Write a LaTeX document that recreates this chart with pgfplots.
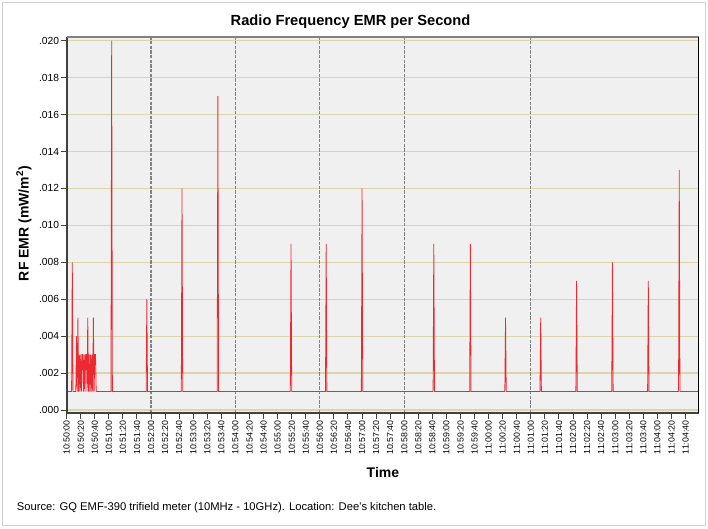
\documentclass[border=0pt]{standalone}
\usepackage{pgfplots}
\pgfplotsset{compat=1.18}
\usepackage{fontspec}
\setmainfont{Liberation Sans}
\definecolor{plotbg}{RGB}{240,240,240}
\definecolor{gridtan}{RGB}{220,213,172}
\definecolor{emrred}{RGB}{236,40,48}
\definecolor{sepgray}{RGB}{130,130,130}
\definecolor{framegray}{RGB}{64,64,64}
\definecolor{outergray}{RGB}{210,210,210}
\begin{document}
\begin{tikzpicture}
\useasboundingbox (0,0) rectangle (531pt,396.75pt);
\draw[outergray, line width=0.75pt] (2pt,2.8pt) rectangle (529pt,394.7pt);
\begin{axis}[
    at={(50pt,87pt)}, anchor=south west,
    scale only axis, width=474.2pt, height=282pt,
    xmin=0, xmax=899, ymin=-0.00016, ymax=0.0202,
    axis background/.style={fill=plotbg},
    axis line style={draw=none},
    tick pos=left, tick align=outside,
    major tick length=4.5pt,
    tick style={framegray, line width=0.75pt},
    xtick={0,20,...,880},
    xticklabels={10:50:00,10:50:20,10:50:40,10:51:00,10:51:20,10:51:40,10:52:00,10:52:20,10:52:40,10:53:00,10:53:20,10:53:40,10:54:00,10:54:20,10:54:40,10:55:00,10:55:20,10:55:40,10:56:00,10:56:20,10:56:40,10:57:00,10:57:20,10:57:40,10:58:00,10:58:20,10:58:40,10:59:00,10:59:20,10:59:40,11:00:00,11:00:20,11:00:40,11:01:00,11:01:20,11:01:40,11:02:00,11:02:20,11:02:40,11:03:00,11:03:20,11:03:40,11:04:00,11:04:20,11:04:40},
    xticklabel style={rotate=90, anchor=east, font=\fontsize{6.6}{7}\selectfont, inner sep=1pt},
    ytick={0,0.002,0.004,0.006,0.008,0.010,0.012,0.014,0.016,0.018,0.020},
    yticklabels={.000,.002,.004,.006,.008,.010,.012,.014,.016,.018,.020},
    yticklabel style={font=\fontsize{7.7}{8}\selectfont, inner sep=1pt},
    scaled y ticks=false,
    ymajorgrids,
    major grid style={gridtan, line width=1pt},
    clip=false,
]
% separators
\addplot[sepgray, line width=0.9pt, dash pattern=on 2.5pt off 1pt] coordinates {(120,-0.00016)(120,0.0202)};
\addplot[sepgray, line width=0.9pt, dash pattern=on 2.5pt off 1pt] coordinates {(240,-0.00016)(240,0.0202)};
\addplot[sepgray, line width=0.9pt, dash pattern=on 2.5pt off 1pt] coordinates {(360,-0.00016)(360,0.0202)};
\addplot[sepgray, line width=0.9pt, dash pattern=on 2.5pt off 1pt] coordinates {(480,-0.00016)(480,0.0202)};
\addplot[sepgray, line width=0.9pt, dash pattern=on 2.5pt off 1pt] coordinates {(660,-0.00016)(660,0.0202)};
% readings, one per second
\addplot[emrred, line width=0.6pt, sharp plot, line join=miter] coordinates {
(0,0.001)(7,0.001)(8,0.008)(9,0.001)(13,0.001)(14,0.004)(15,0.001)(16,0.005)(17,0.001)
(18,0.003)(19,0.001)(20,0.003)(21,0.001)(22,0.003)(23,0.003)(24,0.001)(25,0.003)(26,0.001)
(27,0.003)(28,0.003)(29,0.001)(30,0.005)(31,0.001)(32,0.003)(33,0.001)(34,0.003)(35,0.001)
(36,0.003)(37,0.001)(38,0.005)(39,0.001)(40,0.003)(41,0.003)(42,0.001)
(63,0.001)(64,0.020)(65,0.001)
(113,0.001)(114,0.006)(115,0.001)
(163,0.001)(164,0.012)(165,0.001)
(214,0.001)(215,0.017)(216,0.001)
(318,0.001)(319,0.009)(320,0.001)
(368,0.001)(369,0.009)(370,0.001)
(419,0.001)(420,0.012)(421,0.001)
(521,0.001)(522,0.009)(523,0.001)
(573,0.001)(574,0.009)(575,0.001)
(623,0.001)(624,0.005)(625,0.001)
(673,0.001)(674,0.005)(675,0.001)
(724,0.001)(725,0.007)(726,0.001)
(775,0.001)(776,0.008)(777,0.001)
(826,0.001)(827,0.007)(828,0.001)
(870,0.001)(871,0.013)(872,0.001)
(899,0.001)};
% frame
\draw[framegray, line width=1.5pt] (rel axis cs:0,1) -- (rel axis cs:0,0) -- (rel axis cs:1,0);
\draw[sepgray, line width=1.1pt] (rel axis cs:0,1) -- (rel axis cs:1,1);
\draw[black, line width=0.75pt] (rel axis cs:1,1) -- (rel axis cs:1,0);
\end{axis}
\node[anchor=base, font=\bfseries\fontsize{11}{13}\selectfont] at (262.9pt,377.6pt) {Radio Frequency EMR per Second};
\node[anchor=base, font=\bfseries\fontsize{10.5}{12}\selectfont] at (287.2pt,38.25pt) {Time};
\node[anchor=base, rotate=90, font=\bfseries\fontsize{10.5}{12}\selectfont] at (21.4pt,229.1pt) {RF EMR (mW/m\textsuperscript{2})};
\node[anchor=base west, inner sep=0pt, font=\fontsize{8.4}{10}\selectfont] at (12.5pt,13.5pt) {Source: GQ EMF-390 trifield meter (10MHz - 10GHz). Location: Dee's kitchen table.};
\end{tikzpicture}
\end{document}
